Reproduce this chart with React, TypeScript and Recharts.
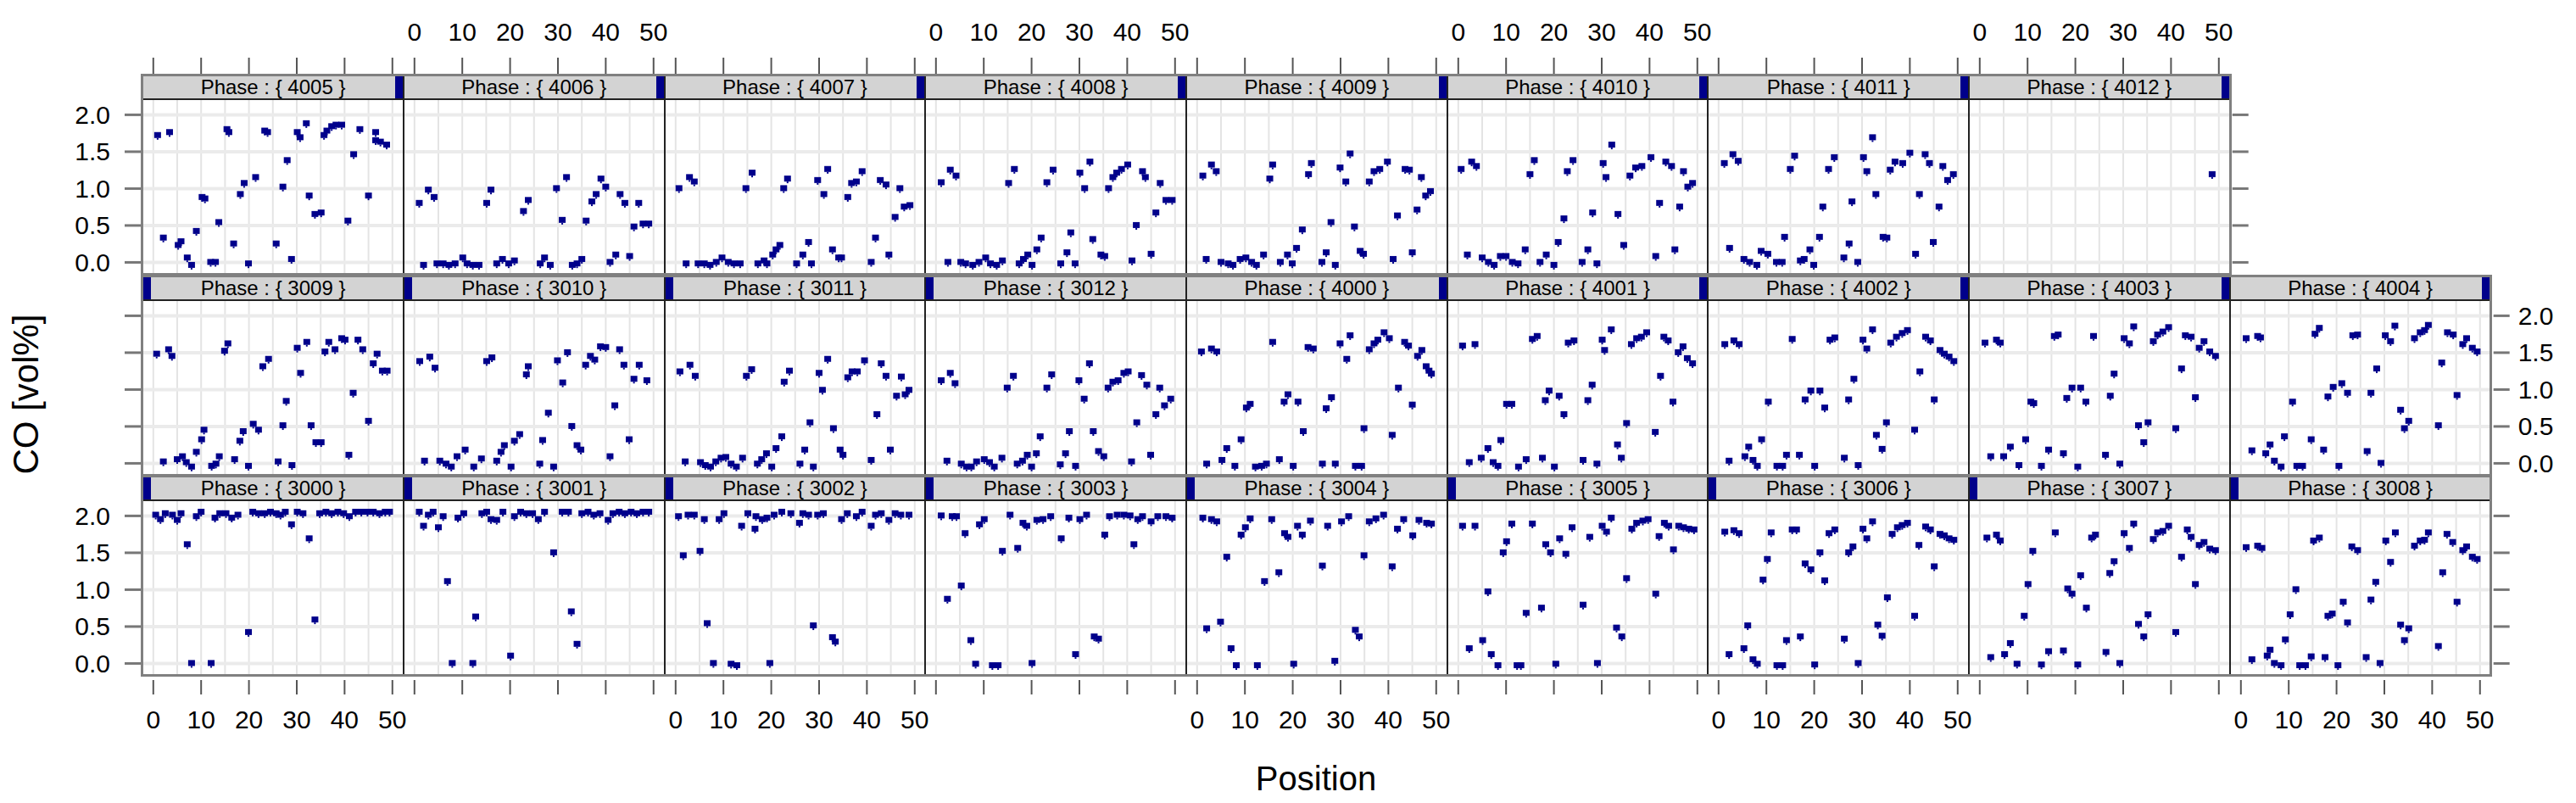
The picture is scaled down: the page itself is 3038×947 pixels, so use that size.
import React from 'react';
import { ScatterChart, Scatter, XAxis, YAxis, ReferenceLine } from 'recharts';

type Pt = [number, number];

const xTicks = [0, 10, 20, 30, 40, 50];
const yTicks = [0, 0.5, 1, 1.5, 2];
const xGrid = [0, 5, 10, 15, 20, 25, 30, 35, 40, 45, 50];

// bottom row
const phase3000: Pt[] = [[0.5,2.01],[1.5,1.95],[2.5,2.03],[4,2.01],[5,1.94],[5.8,2.03],[7.1,1.61],[8,0],[9,1.99],[10,2.05],[12.1,0],[12.9,1.97],[13.9,2.03],[15.2,2.03],[16.4,1.97],[17.7,2.01],[19.9,0.42],[20.8,2.05],[22,2.03],[23.3,2.03],[24.5,2.05],[25.7,2.03],[26.6,2.01],[27.6,2.05],[28.9,1.88],[30.1,2.05],[31.3,2.03],[32.6,1.69],[33.8,0.59],[34.8,2.03],[36.1,2.05],[37.3,2.03],[38.6,2.05],[39.8,2.03],[41,1.99],[42.3,2.05],[43.5,2.05],[44.8,2.05],[46,2.05],[47.3,2.03],[48.5,2.05],[49.4,2.05]];
const phase3001: Pt[] = [[1,2.05],[1.9,1.86],[2.9,2.01],[3.9,2.05],[5,1.84],[6,1.99],[6.9,1.11],[7.9,0],[9.1,1.97],[10.3,2.03],[12.2,0],[12.8,0.63],[14.1,2.03],[15.1,2.05],[16,1.95],[17.2,1.94],[18.5,2.05],[20.1,0.1],[20.9,1.99],[22.2,2.05],[23.4,2.03],[24.7,2.03],[25.9,1.95],[27.2,2.05],[29.1,1.5],[30.9,2.05],[32.2,2.05],[32.8,0.7],[34,0.26],[35,2.03],[36.3,2.05],[37.5,2.01],[38.8,2.03],[40.5,1.94],[41.5,2.03],[42.8,2.05],[44,2.03],[45.3,2.05],[46.5,2.03],[47.8,2.05],[49,2.05]];
const phase3002: Pt[] = [[0.6,1.99],[1.6,1.46],[2.6,2.01],[3.9,2.01],[5.1,1.52],[6,1.95],[6.6,0.54],[7.9,0],[9.1,1.95],[10.1,2.03],[11.6,-0.01],[12.8,-0.03],[13.8,1.86],[15.1,2.03],[16.6,1.82],[16.8,1.99],[18.1,1.95],[19.1,1.97],[19.7,0],[20.6,2.01],[22.2,2.05],[24.1,2.03],[25.9,1.9],[26.6,2.03],[27.8,2.01],[28.8,0.51],[29.7,2.01],[30.9,2.03],[32.8,0.35],[33.4,0.29],[34.7,1.95],[35.9,2.03],[37.8,1.99],[39,2.05],[40.9,1.86],[41.8,2.01],[43,2.03],[44.6,1.94],[45.9,2.03],[47.1,2.01],[48.8,2.01]];
const phase3003: Pt[] = [[1.1,2.0],[2.4,0.87],[3.4,1.99],[4.3,1.99],[5.3,1.05],[6.1,1.76],[7.3,0.31],[8.3,-0.01],[9.1,1.88],[10.1,1.95],[11.8,-0.03],[13,-0.03],[13.9,1.52],[15.5,2.01],[17.1,1.56],[18.2,1.9],[19,1.86],[20.1,0],[21.1,1.94],[22.4,1.95],[24,1.99],[26.2,1.69],[27.8,1.97],[29.2,0.12],[30.1,1.95],[31.5,2.01],[33.1,0.36],[34,0.33],[35.3,1.74],[36.3,1.99],[37.9,2.01],[39.3,2.01],[40.6,2.0],[41.4,1.61],[42.2,1.95],[43.2,1.99],[45,1.92],[46.4,1.99],[48.1,1.99],[49.4,1.97]];
const phase3004: Pt[] = [[1.2,1.97],[2,0.47],[3,1.95],[4.1,1.92],[4.9,0.56],[6.2,1.44],[7.1,0.2],[8.2,-0.03],[9.2,1.74],[10.1,1.84],[11.1,1.96],[12.6,-0.03],[14.1,1.11],[15.6,1.95],[17.1,1.23],[18.3,1.76],[19,1.71],[20.2,-0.01],[21,1.86],[22,1.74],[23.7,1.93],[26.2,1.32],[27.3,1.86],[28.8,0.03],[30.2,1.92],[31.7,1.99],[33.1,0.45],[33.9,0.36],[34.9,1.46],[36,1.92],[37.4,1.96],[39,2.01],[40.8,1.31],[41.9,1.82],[43.2,1.95],[45.1,1.73],[46.4,1.94],[48,1.9],[49,1.89]];
const phase3005: Pt[] = [[0.9,1.86],[2.3,0.2],[3.5,1.86],[5.1,0.31],[6.2,0.97],[6.9,0.12],[8.3,-0.03],[9.4,1.5],[10.1,1.65],[11.2,1.89],[12.3,-0.03],[13.1,-0.03],[14.2,0.68],[15.5,1.89],[17.4,0.75],[18.3,1.61],[19.3,1.5],[20.4,-0.01],[21.2,1.69],[22.5,1.48],[23.8,1.84],[26.1,0.79],[27.5,1.71],[29.1,0],[30.1,1.86],[31,1.78],[32,1.97],[33.1,0.48],[34.2,0.36],[35.2,1.15],[36.3,1.82],[37.3,1.9],[38.6,1.93],[39.7,1.95],[41.3,0.94],[42,1.72],[43.1,1.9],[44,1.86],[45,1.54],[46.1,1.86],[47.1,1.84],[48.2,1.82],[49.3,1.81]];
const phase3006: Pt[] = [[1.3,1.78],[2.2,0.12],[3.2,1.8],[4.3,1.76],[5.3,0.2],[6.1,0.51],[7.2,0.05],[8.1,-0.01],[9.3,1.13],[10.2,1.41],[11,1.77],[12.2,-0.03],[13.4,-0.03],[14.2,0.31],[15.4,1.81],[16.3,1.81],[17.1,0.36],[18.1,1.35],[19.3,1.27],[20.1,-0.02],[21.2,1.5],[22.2,1.12],[23.1,1.76],[24.3,1.81],[26.3,0.33],[27.2,1.5],[28.1,1.58],[29.2,0],[30.2,1.82],[31,1.69],[32.2,1.92],[33.3,0.52],[34.2,0.37],[35.3,0.89],[36.3,1.75],[37.4,1.84],[38.4,1.87],[39.5,1.9],[41,0.64],[41.9,1.6],[43.3,1.85],[44.3,1.81],[45.1,1.31],[46.3,1.75],[47.2,1.73],[48.2,1.69],[49.2,1.67]];
const phase3007: Pt[] = [[1.5,1.7],[2.3,0.08],[3.5,1.74],[4.3,1.66],[5.2,0.12],[6.4,0.27],[7.8,-0.01],[9.3,0.64],[10.1,1.07],[11.1,1.52],[12.9,-0.02],[14.4,0.16],[15.8,1.77],[17.5,0.17],[18.4,1.01],[19.3,0.94],[20.5,-0.02],[21.1,1.19],[22.3,0.75],[23.4,1.7],[24.2,1.74],[26.4,0.15],[27.2,1.22],[28.1,1.38],[29.3,0],[30.2,1.76],[31.3,1.56],[32.2,1.89],[33.2,0.53],[34.3,0.36],[35.2,0.66],[36.3,1.68],[37.2,1.77],[38.3,1.79],[39.5,1.86],[41,0.42],[42.2,1.44],[43.4,1.81],[44.2,1.71],[45.1,1.07],[45.9,1.6],[46.9,1.64],[48.1,1.55],[49.3,1.53]];
const phase3008: Pt[] = [[1.1,1.57],[2.3,0.05],[3.5,1.59],[4.4,1.56],[5.5,0.1],[6.1,0.18],[7,0],[8.4,-0.03],[9.3,0.32],[10.3,0.66],[11.5,1.0],[12.3,-0.03],[13.5,-0.03],[14.7,0.09],[15.2,1.66],[16.4,1.7],[17.6,0.08],[18.2,0.64],[19.1,0.67],[20.3,-0.03],[21.4,0.83],[22.3,0.55],[23.2,1.58],[24.4,1.53],[26.2,0.08],[27.2,0.86],[28.2,1.1],[29.1,0],[30.3,1.66],[31.3,1.37],[32.3,1.77],[33.4,0.52],[34.2,0.31],[35.1,0.47],[36.3,1.59],[37.5,1.66],[38.4,1.67],[39.2,1.77],[41.3,0.23],[42.2,1.23],[43.1,1.75],[44.3,1.64],[45.2,0.83],[46.4,1.53],[47.2,1.58],[48.4,1.44],[49.4,1.41]];

// middle row
const phase3009: Pt[] = [[0.7,1.48],[2.1,0.02],[3.2,1.54],[3.9,1.45],[5,0.05],[6.1,0.09],[6.9,0.01],[8,-0.05],[9,0.15],[10.1,0.32],[10.6,0.45],[12.2,-0.04],[13.1,-0.01],[13.8,0.09],[14.9,1.52],[15.6,1.62],[17,0.05],[18.1,0.3],[18.8,0.43],[19.9,-0.04],[20.9,0.53],[22,0.45],[22.9,1.31],[24.1,1.41],[26.1,0.02],[27.1,0.51],[27.8,0.84],[29,-0.03],[30.1,1.56],[30.8,1.22],[32.1,1.64],[33,0.51],[34,0.28],[35.1,0.28],[35.9,1.51],[36.7,1.64],[38,1.54],[39.4,1.69],[40.1,1.67],[40.9,0.11],[41.8,0.95],[42.8,1.67],[43.8,1.54],[45,0.57],[46,1.35],[46.8,1.48],[47.9,1.25],[48.9,1.25]];
const phase3010: Pt[] = [[1.1,1.38],[2.1,0.03],[3.2,1.44],[4.3,1.29],[5.3,0.03],[6.6,-0.01],[7.7,-0.05],[8.9,0.09],[10.6,0.18],[12.4,-0.05],[14,0.06],[15.1,1.38],[16.2,1.43],[17.2,0.03],[18.1,0.15],[18.8,0.24],[20.2,-0.05],[20.9,0.3],[22,0.39],[23.4,1.2],[23.8,1.31],[26.2,-0.01],[26.8,0.31],[28,0.68],[29.1,-0.05],[29.9,1.39],[31,1.09],[32,1.5],[32.9,0.5],[34,0.24],[34.8,0.18],[35.8,1.33],[36.8,1.45],[37.7,1.4],[38.9,1.58],[40,1.57],[40.9,0.09],[41.9,0.78],[42.9,1.54],[43.8,1.33],[44.9,0.32],[45.9,1.14],[47,1.33],[48.6,1.12]];
const phase3011: Pt[] = [[0.9,1.24],[2,0.02],[3,1.33],[4.1,1.18],[5.2,0.01],[6.2,-0.03],[7.3,-0.05],[8.4,0.02],[9.5,0.07],[10.5,0.08],[11.6,-0.01],[12.7,-0.05],[14,0.07],[14.8,1.18],[15.9,1.27],[17.1,-0.01],[18,0.05],[19,0.13],[20.1,-0.05],[21,0.2],[22.2,0.36],[22.7,1.1],[23.8,1.25],[26,-0.01],[27,0.18],[28.1,0.55],[28.8,-0.05],[30,1.22],[30.7,0.99],[31.8,1.41],[33,0.47],[34.4,0.18],[35,0.11],[36,1.16],[36.9,1.24],[38,1.24],[39.5,1.39],[40.9,0.04],[42.1,0.66],[43,1.35],[44,1.18],[44.9,0.18],[46.2,0.91],[47.2,1.17],[48,0.93],[48.8,0.99]];
const phase3012: Pt[] = [[1.1,1.12],[2.3,0.03],[3,1.22],[4,1.08],[5.3,-0.01],[6.4,-0.05],[7.4,-0.05],[8.5,0.02],[10.1,0.05],[11.2,0.01],[12.2,-0.05],[13.8,0.07],[14.9,1.02],[16.2,1.18],[17,-0.01],[18.1,0.03],[19.1,0.11],[20,-0.05],[21,0.13],[21.8,0.36],[23.2,1.02],[24.2,1.2],[26,-0.02],[27.1,0.13],[27.9,0.43],[29.2,-0.04],[29.9,1.12],[31,0.87],[32.1,1.35],[32.9,0.43],[34,0.16],[35.1,0.09],[36,1.02],[37,1.1],[38.1,1.12],[39.3,1.22],[40.2,1.24],[40.9,0.02],[42,0.55],[43,1.19],[44.1,1.06],[44.9,0.11],[46,0.66],[46.8,1.02],[47.8,0.78],[49.1,0.87]];
const phase4000: Pt[] = [[0.9,1.51],[2,-0.01],[3,1.55],[4.1,1.51],[5.2,0.04],[6.2,0.2],[7.9,-0.04],[9.2,0.32],[10.3,0.75],[11.1,0.8],[12.2,-0.05],[13.5,-0.04],[14.5,-0.01],[15.8,1.64],[17.2,0.05],[18.2,0.83],[19,0.93],[20.1,-0.04],[21.1,0.83],[22.2,0.43],[23.2,1.57],[24.3,1.55],[26.2,-0.01],[27,0.74],[28.1,0.89],[28.9,-0.01],[29.9,1.62],[31.3,1.41],[32,1.73],[33.1,-0.04],[34.4,-0.04],[34.9,0.47],[36,1.54],[37,1.62],[37.8,1.67],[39.1,1.77],[40.2,1.69],[40.8,0.38],[42.1,1.02],[43.4,1.64],[44.2,1.59],[45,0.79],[46.1,1.45],[47,1.53],[47.9,1.31],[48.5,1.25],[49,1.21]];
const phase4001: Pt[] = [[0.9,1.59],[2.3,0.01],[3.5,1.61],[4.8,0.07],[6.2,0.2],[7.3,0.01],[8.3,-0.04],[8.9,0.31],[10.1,0.8],[11.2,0.8],[12.6,-0.05],[14.2,0.05],[15.5,1.68],[16.5,1.72],[17.6,0.07],[18.2,0.85],[19,0.98],[20.1,-0.05],[21.1,0.91],[22.1,0.66],[23,1.63],[24.2,1.66],[26.1,0.04],[27.1,0.85],[28,1.06],[29,-0.01],[30.1,1.67],[30.6,1.53],[32,1.81],[33.3,0.25],[34.1,0.07],[35.2,0.54],[36.2,1.61],[37.3,1.69],[38.3,1.71],[39.4,1.77],[41.2,0.42],[42.3,1.18],[43,1.71],[43.9,1.66],[44.9,0.83],[46,1.5],[47,1.58],[47.9,1.42],[49,1.35]];
const phase4002: Pt[] = [[1.3,1.61],[2.2,0.03],[3.2,1.66],[4.3,1.61],[5.5,0.09],[6.3,0.22],[7.2,0.04],[8.1,-0.04],[9,0.32],[10.4,0.83],[12.2,-0.04],[13.4,-0.04],[14.2,0.11],[15.4,1.68],[16.9,0.11],[18.1,0.86],[19.3,0.98],[20.1,-0.04],[21.2,0.98],[22.2,0.75],[23.3,1.67],[24.3,1.7],[26.3,0.07],[27.2,0.86],[28.3,1.14],[29.2,-0.03],[30.2,1.67],[31,1.55],[32.2,1.81],[33,0.38],[34.2,0.19],[35.1,0.55],[36,1.63],[37.2,1.71],[38.4,1.76],[39.5,1.8],[41,0.45],[42.1,1.24],[43.3,1.71],[44.3,1.66],[45.1,0.86],[46.3,1.53],[47.2,1.48],[48.2,1.44],[49.2,1.38]];
const phase4003: Pt[] = [[1.1,1.63],[2.3,0.09],[3.5,1.67],[4.3,1.63],[5,0.09],[6.4,0.22],[8.2,-0.03],[9.6,0.32],[10.7,0.83],[11.3,0.81],[12.9,-0.04],[14.4,0.18],[15.6,1.72],[16.4,1.74],[17.5,0.13],[18.2,0.88],[19.3,1.02],[20.5,-0.05],[21.1,1.02],[22.2,0.83],[23.8,1.72],[26.3,0.11],[27.3,0.91],[28.1,1.21],[29.3,-0.01],[30.2,1.69],[31.3,1.62],[32.2,1.85],[33.2,0.51],[34.3,0.28],[35.2,0.55],[36.3,1.65],[37.2,1.74],[38.3,1.78],[39.5,1.84],[41,0.47],[42.2,1.28],[43,1.73],[44.2,1.71],[45.1,0.89],[45.9,1.56],[46.9,1.65],[48.1,1.51],[49.3,1.45]];
const phase4004: Pt[] = [[1.1,1.69],[2.3,0.17],[3.5,1.72],[4.1,1.7],[5.2,0.13],[6.1,0.25],[7,0.03],[8.4,-0.05],[9.1,0.36],[10.8,0.83],[11.7,-0.04],[12.9,-0.04],[14.7,0.32],[15.5,1.75],[16.4,1.83],[17.3,0.18],[18.2,0.9],[19.3,1.03],[20.5,-0.04],[21.1,1.08],[22.3,0.95],[23.4,1.73],[24.4,1.74],[26.4,0.16],[27.2,0.95],[28.4,1.28],[29.3,0],[30.2,1.73],[31.3,1.65],[32.2,1.86],[33.4,0.72],[34.2,0.47],[35.1,0.57],[36.3,1.69],[37.5,1.77],[38.4,1.8],[39.2,1.87],[41.3,0.51],[42,1.36],[43.2,1.77],[44.4,1.74],[45.2,0.92],[46.4,1.61],[47.2,1.69],[48.4,1.56],[49.4,1.51]];

// top row
const phase4005: Pt[] = [[0.9,1.72],[2.1,0.33],[3.4,1.76],[5.2,0.23],[5.8,0.28],[7.1,0.06],[8,-0.04],[9,0.42],[10.2,0.88],[10.8,0.86],[12,0],[13,0],[13.7,0.54],[15.4,1.8],[15.8,1.76],[16.8,0.25],[18.2,0.92],[19,1.07],[19.9,-0.02],[21.4,1.15],[23.3,1.78],[23.9,1.76],[25.7,0.25],[27.1,1.02],[28,1.38],[28.9,0.04],[30.1,1.76],[30.7,1.69],[32,1.88],[32.6,0.9],[33.8,0.65],[35.1,0.67],[35.7,1.72],[36.3,1.78],[37.3,1.84],[38.2,1.86],[39.4,1.86],[40.7,0.56],[41.9,1.46],[43.2,1.8],[45,0.9],[46.5,1.76],[46.5,1.65],[47.5,1.63],[48.8,1.59]];
const phase4006: Pt[] = [[1,0.8],[1.9,-0.04],[2.9,0.98],[4.1,0.88],[4.7,-0.02],[6,-0.02],[7.2,-0.04],[8.5,-0.02],[10.1,0.06],[11,-0.02],[12.2,-0.04],[13.5,-0.04],[15.1,0.8],[16,0.98],[17.2,-0.02],[18.4,0.04],[19.7,-0.02],[20.9,0.02],[22.8,0.69],[23.8,0.84],[26.3,-0.02],[27.2,0.06],[28.4,-0.04],[29.7,1.0],[30.9,0.57],[31.8,1.15],[33,-0.04],[34,-0.02],[35,0.04],[35.9,0.56],[37.1,0.82],[38,0.92],[39,1.13],[40,1.02],[40.9,0],[42.1,0.1],[43,0.92],[44,0.8],[45,0.08],[45.9,0.48],[46.9,0.8],[47.8,0.52],[49,0.52]];
const phase4007: Pt[] = [[0.7,1.0],[2.2,-0.02],[2.9,1.15],[3.9,1.09],[4.7,-0.02],[6,-0.02],[7.2,-0.04],[8.5,0],[9.7,0.06],[11,0],[12.2,-0.02],[13.5,-0.02],[14.7,1.0],[16,1.21],[17.2,-0.02],[18.5,0.02],[19.1,-0.02],[20.3,0.1],[21,0.17],[21.8,0.23],[22.6,1.0],[23.4,1.13],[25.3,-0.02],[26.6,0.1],[27.8,0.27],[28.4,-0.02],[29.7,1.11],[31,0.92],[31.8,1.26],[32.8,0.17],[34.1,0.06],[34.7,0.06],[36,0.88],[36.8,1.07],[37.8,1.09],[39,1.23],[40.9,0],[41.8,0.33],[42.8,1.11],[44,1.05],[44.6,0.1],[45.9,0.61],[46.9,1.0],[47.8,0.75],[49,0.77]];
const phase4008: Pt[] = [[1.1,1.08],[2.5,0],[3,1.25],[4.2,1.17],[5.2,0],[6.2,-0.02],[7.7,-0.04],[9,0],[10.4,0.06],[11.4,-0.02],[12.7,-0.04],[13.9,0.02],[15.2,1.07],[16.4,1.26],[17.4,-0.02],[18.3,0.04],[19.2,0.1],[20.1,-0.04],[21.1,0.17],[22,0.33],[23.2,1.08],[24.5,1.25],[26.1,-0.02],[27.4,0.13],[28.2,0.4],[29.1,-0.02],[30.1,1.21],[31.1,1.0],[32.2,1.36],[32.8,0.31],[34.5,0.1],[35.3,0.08],[36.1,1.0],[37,1.15],[37.8,1.21],[38.8,1.26],[40.1,1.32],[41,0.02],[41.9,0.5],[43.2,1.23],[43.8,1.15],[45,0.11],[46,0.67],[46.9,1.07],[48.1,0.84],[49.4,0.84]];
const phase4009: Pt[] = [[1.2,1.17],[1.9,0.04],[3,1.32],[4,1.23],[5,0],[6.5,-0.02],[7.5,-0.04],[9,0.04],[10.2,0.06],[11.4,0],[12.4,-0.04],[13.9,0.1],[15.2,1.13],[15.8,1.32],[17.4,0],[18.9,0.1],[19.9,-0.02],[20.8,0.19],[22,0.44],[23.3,1.19],[23.9,1.34],[26.1,0],[27,0.13],[28,0.54],[28.9,-0.04],[29.9,1.28],[31.1,1.09],[32,1.47],[32.9,0.48],[34.1,0.15],[34.8,0.11],[36,1.09],[37,1.23],[38.2,1.26],[39.8,1.36],[41,0.04],[41.9,0.63],[43.5,1.26],[44.4,1.25],[45,0.13],[46,0.71],[46.9,1.15],[47.8,0.9],[48.8,0.96]];
const phase4010: Pt[] = [[0.6,1.26],[1.9,0.1],[2.8,1.36],[3.8,1.3],[5,0.06],[6.3,0],[7.5,-0.04],[8.8,0.08],[10,0.08],[11.3,0],[12.5,-0.02],[14,0.17],[15,1.19],[15.9,1.38],[17.1,0],[18.4,0.1],[20,-0.04],[20.9,0.27],[22.1,0.59],[22.8,1.23],[24,1.38],[25.9,0],[27.1,0.17],[28.1,0.67],[29,-0.02],[30.3,1.34],[30.9,1.15],[32.1,1.59],[33.4,0.65],[34.6,0.23],[35.9,1.17],[37.1,1.28],[38.4,1.3],[40.3,1.42],[41.3,0.08],[42.1,0.8],[43.4,1.36],[44.6,1.3],[45.3,0.17],[46.3,0.75],[47.1,1.23],[48,1.02],[49,1.07]];
const phase4011: Pt[] = [[1.2,1.34],[2.3,0.19],[3,1.46],[4.1,1.37],[5.3,0.04],[6.5,0],[8,-0.04],[8.9,0.15],[10.3,0.11],[12.1,0],[13.3,0],[13.8,0.34],[15,1.26],[15.9,1.44],[17.1,0.02],[17.9,0.04],[19.1,0.17],[19.9,-0.04],[21.1,0.34],[21.8,0.75],[23,1.26],[24.2,1.42],[26.2,0.06],[27.3,0.25],[27.9,0.82],[29.1,0],[30.3,1.42],[31,1.23],[32.2,1.69],[32.9,0.92],[34.4,0.34],[35.2,0.33],[35.9,1.25],[36.9,1.36],[38.5,1.34],[40,1.48],[41.2,0.11],[42,0.92],[43.2,1.46],[44.1,1.34],[44.9,0.27],[46.1,0.75],[46.9,1.3],[47.9,1.11],[49.1,1.19]];
const phase4012: Pt[] = [[48.6,1.19]];

const topPhases = ['4005', '4006', '4007', '4008', '4009', '4010', '4011', '4012'];
const middlePhases = ['3009', '3010', '3011', '3012', '4000', '4001', '4002', '4003', '4004'];
const bottomPhases = ['3000', '3001', '3002', '3003', '3004', '3005', '3006', '3007', '3008'];

const phaseData: Record<string, Pt[]> = {
  '3000': phase3000, '3001': phase3001, '3002': phase3002, '3003': phase3003, '3004': phase3004,
  '3005': phase3005, '3006': phase3006, '3007': phase3007, '3008': phase3008, '3009': phase3009,
  '3010': phase3010, '3011': phase3011, '3012': phase3012, '4000': phase4000, '4001': phase4001,
  '4002': phase4002, '4003': phase4003, '4004': phase4004, '4005': phase4005, '4006': phase4006,
  '4007': phase4007, '4008': phase4008, '4009': phase4009, '4010': phase4010, '4011': phase4011,
  '4012': phase4012,
};

// layout (px)
const W = 307.7;
const L0 = 168.2;
const PH = 205;
const STRIP = 29;
const PLOT_TOP = [118, 354.5, 591];
const TOPX = 120;
const BOTX = 90;
const SIDE = 100;
const XDOM: [number, number] = [-2.27, 52.29];
const YDOM: [number, number] = [-0.156, 2.2];
const NAVY = '#00008B';
const FONT = "'Liberation Sans', Arial, Helvetica, sans-serif";

const Marker = (p: any) => {
  if (p.cx == null || p.cy == null) return <g />;
  return (
    <g fill={NAVY}>
      <rect x={p.cx - 4} y={p.cy - 4} width={8} height={7} />
      <rect x={p.cx - 1} y={p.cy + 3} width={2} height={2} />
    </g>
  );
};

interface PanelProps {
  row: number;
  col: number;
  phase: string;
  last: boolean;
}

const Panel: React.FC<PanelProps> = ({ row, col, phase, last }) => {
  const left = L0 + col * W;
  const top = PLOT_TOP[row];
  const hasL = col === 0;
  const hasR = last;
  const cw = W + (hasL ? SIDE : 0) + (hasR ? SIDE : 0);
  const plotLeft = hasL ? SIDE : 0;
  const plotRight = plotLeft + W;
  const pts = phaseData[phase].map(([x, y]) => ({ x, y }));
  const isFour = phase.startsWith('4');

  const topTick = (p: any) => {
    if (row !== 0) return <g />;
    const y2 = TOPX - STRIP - 2;
    return (
      <g>
        <line x1={p.x} x2={p.x} y1={y2 - 19} y2={y2} stroke="#555" strokeWidth={2} />
        {col % 2 === 1 && (
          <text x={p.x} y={TOPX - 80} textAnchor="middle" dominantBaseline="central" fontSize={30} fontFamily={FONT} fill="#000">
            {p.payload.value}
          </text>
        )}
      </g>
    );
  };

  const bottomTick = (p: any) => {
    if (row !== 2) return <g />;
    const y1 = TOPX + PH + 6;
    return (
      <g>
        <line x1={p.x} x2={p.x} y1={y1} y2={y1 + 17} stroke="#555" strokeWidth={2} />
        {col % 2 === 0 && (
          <text x={p.x} y={TOPX + PH + 53} textAnchor="middle" dominantBaseline="central" fontSize={30} fontFamily={FONT} fill="#000">
            {p.payload.value}
          </text>
        )}
      </g>
    );
  };

  const leftTick = (p: any) => (
    <g>
      <line x1={plotLeft - 21} x2={plotLeft - 2} y1={p.y} y2={p.y} stroke="#777" strokeWidth={3} />
      {row !== 1 && (
        <text x={plotLeft - 38} y={p.y} textAnchor="end" dominantBaseline="central" fontSize={30} fontFamily={FONT} fill="#000">
          {p.payload.value.toFixed(1)}
        </text>
      )}
    </g>
  );

  const rightTick = (p: any) => (
    <g>
      <line x1={plotRight + 3} x2={plotRight + 22} y1={p.y} y2={p.y} stroke="#777" strokeWidth={3} />
      {row === 1 && (
        <text x={plotRight + 32} y={p.y} textAnchor="start" dominantBaseline="central" fontSize={30} fontFamily={FONT} fill="#000">
          {p.payload.value.toFixed(1)}
        </text>
      )}
    </g>
  );

  return (
    <>
      <div style={{ position: 'absolute', left: left - plotLeft, top: top - TOPX }}>
        <ScatterChart width={cw} height={TOPX + PH + BOTX} margin={{ top: 0, right: 0, bottom: 0, left: 0 }}>
          <XAxis xAxisId="t" orientation="top" type="number" dataKey="x" domain={XDOM} ticks={xTicks} interval={0}
            height={TOPX} axisLine={false} tickLine={false} tick={topTick} allowDataOverflow />
          <XAxis xAxisId="b" orientation="bottom" type="number" dataKey="x" domain={XDOM} ticks={xTicks} interval={0}
            height={BOTX} axisLine={false} tickLine={false} tick={bottomTick} allowDataOverflow />
          <YAxis yAxisId="l" orientation="left" type="number" dataKey="y" domain={YDOM} ticks={yTicks} interval={0}
            width={SIDE} hide={!hasL} axisLine={false} tickLine={false} tick={leftTick} allowDataOverflow />
          {hasR && (
            <YAxis yAxisId="r" orientation="right" type="number" dataKey="y" domain={YDOM} ticks={yTicks} interval={0}
              width={SIDE} axisLine={false} tickLine={false} tick={rightTick} allowDataOverflow />
          )}
          {xGrid.map((v) => (
            <ReferenceLine key={'gx' + v} x={v} xAxisId="b" yAxisId="l" stroke="#e4e4e4" strokeWidth={2} />
          ))}
          {yTicks.map((v) => (
            <ReferenceLine key={'gy' + v} y={v} xAxisId="b" yAxisId="l" stroke="#ebebeb" strokeWidth={4} />
          ))}
          <Scatter data={pts} xAxisId="b" yAxisId="l" dataKey="y" fill={NAVY} shape={Marker} isAnimationActive={false} />
        </ScatterChart>
      </div>
      <div
        style={{
          position: 'absolute', left, top: top - STRIP, width: W, height: STRIP,
          background: '#d3d3d3', borderBottom: '2px solid #222', boxSizing: 'border-box',
          fontFamily: FONT, fontSize: 24, lineHeight: `${STRIP - 2}px`, textAlign: 'center', color: '#000',
        }}
      >
        <div style={{ position: 'absolute', [isFour ? 'right' : 'left']: 0, top: 0, width: 10, height: '100%', background: NAVY }} />
        {`Phase : { ${phase} }`}
      </div>
      <div
        style={{
          position: 'absolute', left, top: top - STRIP, width: W, height: STRIP + PH,
          border: '1.5px solid #222', boxSizing: 'border-box', pointerEvents: 'none',
        }}
      />
    </>
  );
};

const rows = [topPhases, middlePhases, bottomPhases];

export default function App() {
  return (
    <div style={{ position: 'absolute', left: 0, top: 0, width: 3038, height: 947, background: '#fff', overflow: 'hidden' }}>
      <style>{'.recharts-surface { overflow: visible; } .recharts-wrapper { overflow: visible; }'}</style>
      {rows.map((phases, r) =>
        phases.map((ph, c) => <Panel key={ph} row={r} col={c} phase={ph} last={c === phases.length - 1} />)
      )}
      {rows.map((phases, r) => (
        <div
          key={'frame' + r}
          style={{
            position: 'absolute', left: L0 - 2, top: PLOT_TOP[r] - STRIP - 2,
            width: phases.length * W + 4, height: STRIP + PH + 4,
            border: '3px solid #808080', boxSizing: 'border-box', pointerEvents: 'none',
          }}
        />
      ))}
      <div
        style={{
          position: 'absolute', left: 1552, top: 918, transform: 'translate(-50%, -50%)',
          fontFamily: FONT, fontSize: 40, whiteSpace: 'nowrap', color: '#000',
        }}
      >
        Position
      </div>
      <div
        style={{
          position: 'absolute', left: 31, top: 465, transform: 'translate(-50%, -50%) rotate(-90deg)',
          fontFamily: FONT, fontSize: 42, whiteSpace: 'nowrap', color: '#000',
        }}
      >
        CO [vol%]
      </div>
    </div>
  );
}
